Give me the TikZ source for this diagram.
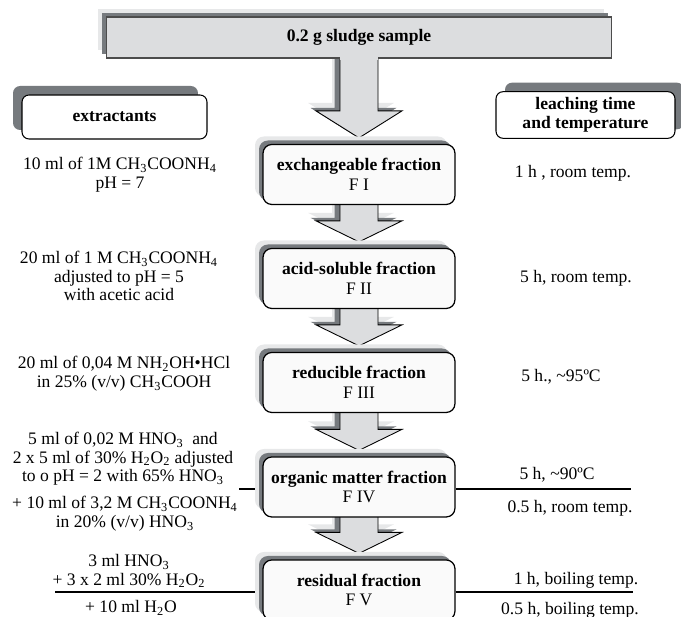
\documentclass[tikz,border=0pt]{standalone}
\usepackage{fontspec}
\setmainfont{Liberation Serif}
\usetikzlibrary{shadows,calc,backgrounds}
\definecolor{boxgray}{RGB}{220,221,223}
\definecolor{shadedark}{RGB}{118,122,126}
\definecolor{shadelight}{RGB}{231,232,233}
\newcommand{\chsub}[1]{\textsubscript{#1}}

% block arrow from one box down to the next: from, to, head depth
\newcommand{\flowarrow}[3]{%
  \draw[blockarrow] ($(#1.south)+(-19,-2)$) -- ($(#2.north)+(-19,-6-#3)$) -- ++(-24,0)
    -- ($(#2.north)+(0,-6)$) -- ($(#2.north)+(43,-6-#3)$) -- ++(-24,0)
    -- ($(#1.south)+(19,-2)$) -- cycle;}

\tikzset{
  twoshadow/.style={
    general shadow={fill=shadelight, shadow xshift=-0.16cm, shadow yshift=0.16cm},
    general shadow={fill=shadedark, shadow xshift=-0.08cm, shadow yshift=0.08cm}},
  topbox/.style={draw=black!70, fill=boxgray, line width=0.6pt, minimum width=10.12cm,
    minimum height=0.82cm, font=\bfseries, twoshadow},
  fracbox/.style={draw=black, fill=white!98!black, rounded corners=5pt, line width=0.7pt,
    minimum width=3.84cm, minimum height=1.2cm, align=center,
    font=\fontsize{10}{11.3}\selectfont, twoshadow},
  headbox/.style={draw=black, fill=white, rounded corners=4pt, line width=0.6pt,
    align=center, font=\fontsize{10}{10.8}\selectfont\bfseries},
  leftshade/.style={general shadow={fill=shadedark, shadow xshift=-0.18cm, shadow yshift=0.18cm}},
  rightshade/.style={general shadow={fill=shadedark, shadow xshift=0.18cm, shadow yshift=0.18cm}},
  blockarrow/.style={draw=black, fill=boxgray, line width=0.5pt,
    general shadow={fill=shadelight, shadow xshift=-0.16cm, shadow yshift=0.16cm},
    general shadow={fill=shadedark, shadow xshift=-0.11cm, shadow yshift=0.06cm}},
  note/.style={align=center, font=\fontsize{10}{10.6}\selectfont},
  sepline/.style={draw=black, line width=0.6pt}
}

\begin{document}
\begin{tikzpicture}[x=0.02cm, y=-0.02cm]
\useasboundingbox (0,0) rectangle (681,617);

\node[topbox] (sample) at (359,37.5) {0.2 g sludge sample};

\node[headbox, leftshade, minimum width=3.7cm, minimum height=0.88cm] (extr) at (114.5,117) {extractants};
\node[headbox, rightshade, minimum width=3.58cm, minimum height=0.92cm] (leach) at (585.5,115) {leaching time\\and temperature};

% fractions
\node[fracbox] (f1) at (359,174.5) {\textbf{exchangeable fraction}\\F I};
\node[fracbox] (f2) at (359,278.5) {\textbf{acid-soluble fraction}\\F II};
\node[fracbox] (f3) at (359,382.5) {\textbf{reducible fraction}\\F III};
\node[fracbox] (f4) at (359,487) {\textbf{organic matter fraction}\\F IV};
\node[fracbox] (f5) at (359,590) {\textbf{residual fraction}\\F V};

% extractants
\node[note] (e1) at (120,175) {10 ml of 1M CH\chsub{3}COONH\chsub{4}\\pH = 7};
\node[note] (e2) at (119,276) {20 ml of 1 M CH\chsub{3}COONH\chsub{4}\\adjusted to pH = 5\\with acetic acid};
\node[note] (e3) at (124,374) {20 ml of 0,04 M NH\chsub{2}OH•HCl\\in 25\% (v/v) CH\chsub{3}COOH};
\node[note] (e4a) at (123,459) {5 ml of 0,02 M HNO\chsub{3}\ \ and\\2 x 5 ml of 30\% H\chsub{2}O\chsub{2} adjusted\\to o pH = 2 with 65\% HNO\chsub{3}};
\node[note] (e4b) at (125,514) {+ 10 ml of 3,2 M CH\chsub{3}COONH\chsub{4}\\in 20\% (v/v) HNO\chsub{3}};
\node[note] (e5a) at (129,571) {3 ml HNO\chsub{3}\\+ 3 x 2 ml 30\% H\chsub{2}O\chsub{2}};
\node[note] (e5b) at (131,608) {+ 10 ml H\chsub{2}O};

% leaching time and temperature
\node[note] (t1) at (573,173) {1 h , room temp.};
\node[note] (t2) at (576,278) {5 h, room temp.};
\node[note] (t3) at (561,377) {5 h., \textasciitilde95ºC};
\node[note] (t4a) at (557,475) {5 h, \textasciitilde90ºC};
\node[note] (t4b) at (570,508) {0.5 h, room temp.};
\node[note] (t5a) at (576,580) {1 h, boiling temp.};
\node[note] (t5b) at (570,610) {0.5 h, boiling temp.};

\coordinate (l4) at (239,489);
\coordinate (r4) at (631,489);
\coordinate (l5) at (55,592);
\coordinate (r5) at (633,592);

\begin{scope}[on background layer]
  \flowarrow{sample}{f1}{27}
  \flowarrow{f1}{f2}{21}
  \flowarrow{f2}{f3}{21}
  \flowarrow{f3}{f4}{21}
  \flowarrow{f4}{f5}{21}
  \draw[sepline] (l4) -- (l4 -| f4.west);
  \draw[sepline] (r4 -| f4.east) -- (r4);
  \draw[sepline] (l5) -- (l5 -| f5.west);
  \draw[sepline] (r5 -| f5.east) -- (r5);
\end{scope}

% join the stem to the sample box
\fill[boxgray] ($(sample.south)+(-18.6,-1.5)$) rectangle ($(sample.south)+(18.6,1.5)$);

\end{tikzpicture}
\end{document}
